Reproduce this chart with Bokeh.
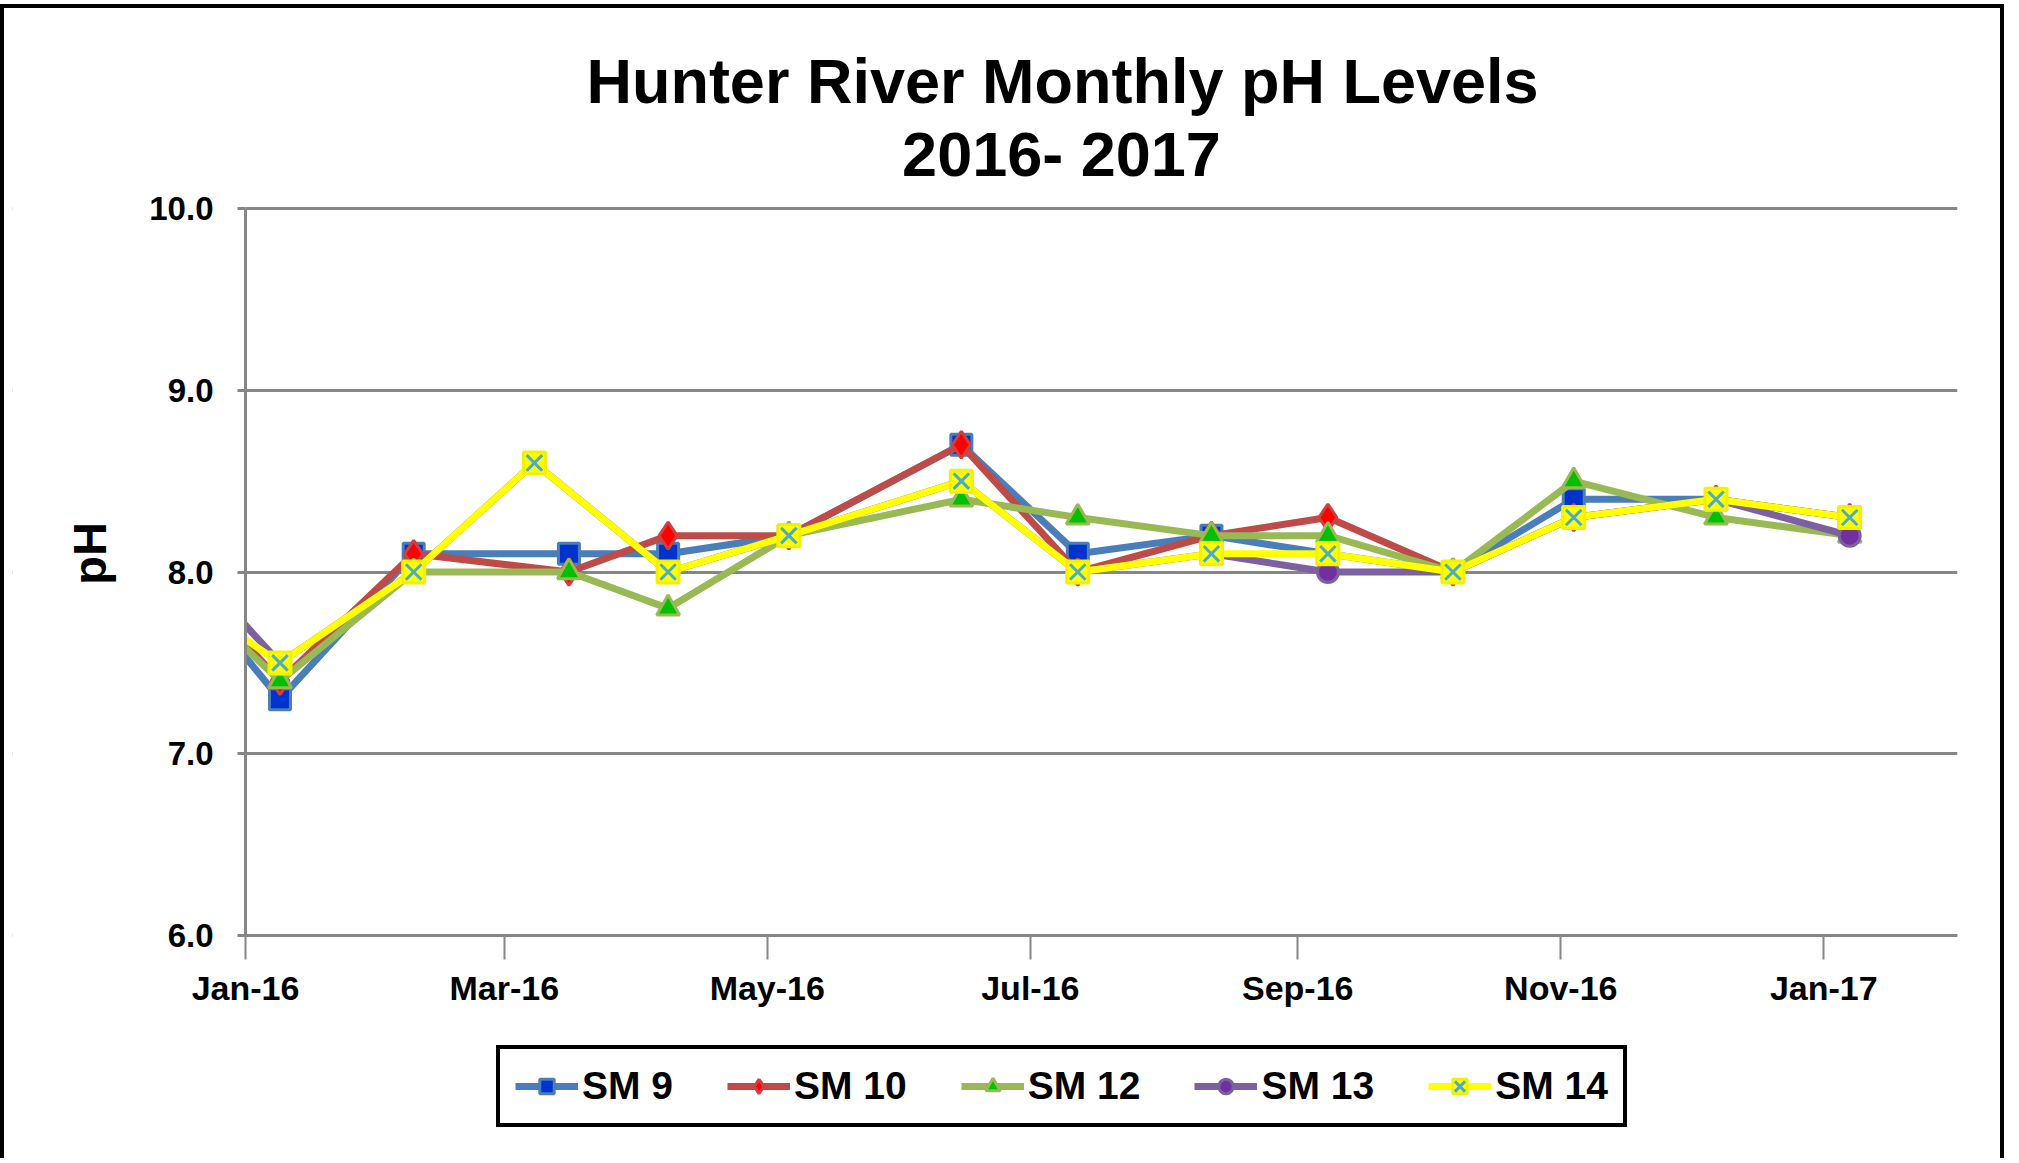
from datetime import datetime as dt, timedelta
from math import pi
from bokeh.plotting import figure
from bokeh.models import (ColumnDataSource, Range1d, FixedTicker, DatetimeTickFormatter,
                          NumeralTickFormatter, Legend, LegendItem, Label, BoxAnnotation)
from bokeh.embed import file_html
from bokeh.resources import INLINE

# ---------------- data ----------------
title_line1 = "Hunter River Monthly pH Levels"
title_line2 = "2016- 2017"
y_label = "pH"

dates_a = [dt(2015, 12, 9), dt(2016, 1, 9), dt(2016, 2, 9), dt(2016, 3, 16), dt(2016, 4, 8),
           dt(2016, 5, 6), dt(2016, 6, 15), dt(2016, 7, 12), dt(2016, 8, 12), dt(2016, 9, 8),
           dt(2016, 10, 7), dt(2016, 11, 4), dt(2016, 12, 7), dt(2017, 1, 7)]
dates_b = [dt(2015, 12, 9), dt(2016, 1, 9), dt(2016, 2, 9), dt(2016, 3, 8), dt(2016, 4, 8),
           dt(2016, 5, 6), dt(2016, 6, 15), dt(2016, 7, 12), dt(2016, 8, 12), dt(2016, 9, 8),
           dt(2016, 10, 7), dt(2016, 11, 4), dt(2016, 12, 7), dt(2017, 1, 7)]

sm9 = [8.2, 7.3, 8.1, 8.1, 8.1, 8.2, 8.7, 8.1, 8.2, 8.1, 8.0, 8.4, 8.4, 8.3]
sm10 = [8.2, 7.4, 8.1, 8.0, 8.2, 8.2, 8.7, 8.0, 8.2, 8.3, 8.0, 8.3, 8.4, 8.3]
sm12 = [8.1, 7.4, 8.0, 8.0, 7.8, 8.2, 8.4, 8.3, 8.2, 8.2, 8.0, 8.5, 8.3, 8.2]
sm13 = [8.3, 7.5, 8.0, 8.6, 8.0, 8.2, 8.5, 8.0, 8.1, 8.0, 8.0, 8.3, 8.4, 8.2]
sm14 = [8.0, 7.5, 8.0, 8.6, 8.0, 8.2, 8.5, 8.0, 8.1, 8.1, 8.0, 8.3, 8.4, 8.3]

series_names = ["SM 9", "SM 10", "SM 12", "SM 13", "SM 14"]

tick_dates = [dt(2016, 1, 1), dt(2016, 3, 1), dt(2016, 5, 1), dt(2016, 7, 1),
              dt(2016, 9, 1), dt(2016, 11, 1), dt(2017, 1, 1)]
tick_labels = ["Jan-16", "Mar-16", "May-16", "Jul-16", "Sep-16", "Nov-16", "Jan-17"]
x_start, x_end = dt(2016, 1, 1), dt(2017, 2, 1)
y_ticks = [6, 7, 8, 9, 10]
y_min, y_max = 6, 10

# ---------------- layout (pixels) ----------------
# The frame covers the whole card so that titles, axis texts and the legend
# below the axis are all drawn inside it; the axes sit at fixed positions.
FRAME_W, FRAME_H = 1945, 1150
PLOT_LEFT = 233            # px from frame left to the Jan-16 axis
PLOT_W = 1712              # px from Jan-16 axis to frame right (Feb-17)
PLOT_TOP = 200             # px from frame top to the 10.0 line
PLOT_H = 727               # px between 10.0 and 6.0
days_total = (x_end - x_start).days
px_per_day = PLOT_W / days_total
px_per_unit = PLOT_H / (y_max - y_min)
x_view_start = x_start - timedelta(days=PLOT_LEFT / px_per_day)
y_view_end = y_max + PLOT_TOP / px_per_unit
y_view_start = y_min - (FRAME_H - PLOT_TOP - PLOT_H) / px_per_unit

FONT = "Liberation Sans"
GRID = "#868686"
INK = "black"


def to_ms(d):
    return (d - dt(1970, 1, 1)).total_seconds() * 1000.0


p = figure(frame_width=FRAME_W, frame_height=FRAME_H, x_axis_type="datetime",
           output_backend="svg", toolbar_location=None,
           x_range=Range1d(x_view_start, x_end), y_range=Range1d(y_view_start, y_view_end),
           min_border_left=8, min_border_right=43, min_border_top=0, min_border_bottom=0,
           styles={"margin-top": "4px",
                   "border-left": "4px solid black", "border-top": "4px solid black",
                   "border-right": "4px solid black"})
p.outline_line_color = None
p.background_fill_color = "white"
p.border_fill_color = "white"

# x axis (at pH 6.0)
p.xaxis.fixed_location = y_min
p.xaxis.bounds = (to_ms(x_start), to_ms(x_end))
p.xaxis.ticker = FixedTicker(ticks=[to_ms(d) for d in tick_dates])
p.xaxis.formatter = DatetimeTickFormatter(days="%b-%y", months="%b-%y", years="%b-%y")
p.xaxis.major_label_overrides = {to_ms(d): lab for d, lab in zip(tick_dates, tick_labels)}
p.xaxis.axis_line_color = GRID
p.xaxis.axis_line_width = 3
p.xaxis.major_tick_line_color = GRID
p.xaxis.major_tick_line_width = 2
p.xaxis.major_tick_out = 24
p.xaxis.major_tick_in = 0
p.xaxis.minor_tick_line_color = None
p.xaxis.major_label_text_font = FONT
p.xaxis.major_label_text_font_style = "bold"
p.xaxis.major_label_text_font_size = "34px"
p.xaxis.major_label_text_color = INK
p.xaxis.major_label_standoff = 9

# y axis (at Jan-16)
p.yaxis.fixed_location = to_ms(x_start)
p.yaxis.bounds = (y_min, y_max)
p.yaxis.ticker = FixedTicker(ticks=y_ticks)
p.yaxis.formatter = NumeralTickFormatter(format="0.0")
p.yaxis.axis_line_color = GRID
p.yaxis.axis_line_width = 3
p.yaxis.major_tick_line_color = GRID
p.yaxis.major_tick_line_width = 3
p.yaxis.major_tick_out = 8
p.yaxis.major_tick_in = 0
p.yaxis.minor_tick_line_color = None
p.yaxis.major_label_text_font = FONT
p.yaxis.major_label_text_font_style = "bold"
p.yaxis.major_label_text_font_size = "33px"
p.yaxis.major_label_text_color = INK
p.yaxis.major_label_standoff = 24

p.xgrid.grid_line_color = None
p.ygrid.grid_line_color = GRID
p.ygrid.grid_line_width = 3

# series
styles = [
    dict(data=sm9, dates=dates_a, line="#4A7EBB", marker="square", fill="#0033CC", mline="#4A7EBB", size=21),
    dict(data=sm10, dates=dates_a, line="#BE4B48", marker="diamond", fill="#FF0000", mline="#D04040", size=27),
    dict(data=sm12, dates=dates_a, line="#98B954", marker="triangle", fill="#00C000", mline="#98B954", size=23),
    dict(data=sm13, dates=dates_b, line="#7D60A0", marker="circle", fill="#7030A0", mline="#7D60A0", size=21),
    dict(data=sm14, dates=dates_b, line="#FFFF00", marker="square", fill="#FFFF00", mline="#F2F200", size=22),
]

items = []
for name, st in zip(series_names, styles):
    src = ColumnDataSource(dict(x=st["dates"], y=st["data"]))
    rl = p.line("x", "y", source=src, line_color=st["line"], line_width=7)
    rm = p.scatter("x", "y", source=src, marker=st["marker"], size=st["size"],
                   fill_color=st["fill"], line_color=st["mline"], line_width=3)
    rends = [rl, rm]
    if name == "SM 14":
        rx = p.scatter("x", "y", source=src, marker="x", size=22,
                       line_color="#4BACC6", line_width=3)
        rends.append(rx)
    items.append(LegendItem(label=name, renderers=rends))

# white mask left of the Jan-16 axis: lines from Dec-15 and grid lines stop at the axis
mask = BoxAnnotation(right=to_ms(x_start), fill_color="white", fill_alpha=1.0,
                     line_color=None, level="glyph")
p.renderers.append(mask)

# titles and axis title (screen units from the frame's bottom-left corner)
p.add_layout(Label(x=1050, y=1078, x_units="screen", y_units="screen", text=title_line1,
                   text_font=FONT, text_font_style="bold", text_font_size="63px",
                   text_color=INK, text_align="center", text_baseline="middle"))
p.add_layout(Label(x=1049, y=1005, x_units="screen", y_units="screen", text=title_line2,
                   text_font=FONT, text_font_style="bold", text_font_size="63px",
                   text_color=INK, text_align="center", text_baseline="middle"))
p.add_layout(Label(x=77, y=605, x_units="screen", y_units="screen", text=y_label,
                   angle=pi / 2, text_font=FONT, text_font_style="bold", text_font_size="47px",
                   text_color=INK, text_align="center", text_baseline="middle"))

legend = Legend(items=items, orientation="horizontal", location=(484, 31),
                glyph_width=63, glyph_height=36, label_standoff=4, spacing=54,
                padding=15, margin=0, label_height=36,
                label_text_font=FONT, label_text_font_style="bold", label_text_font_size="39px",
                label_text_color=INK,
                border_line_color="black", border_line_width=4, border_line_alpha=1.0,
                background_fill_color="white", background_fill_alpha=1.0)
p.add_layout(legend, "center")

open("out.html", "w").write(file_html(p, INLINE))
